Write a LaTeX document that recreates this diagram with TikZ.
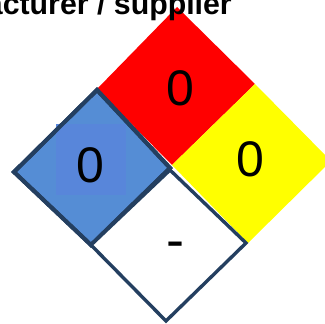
\documentclass[tikz,border=0pt]{standalone}
\usepackage{fontspec}
\setmainfont{Liberation Sans}
\usepackage{tikz}
\usetikzlibrary{positioning}
\definecolor{hazred}{HTML}{FF0000}
\definecolor{hazyellow}{HTML}{FFFF00}
\definecolor{hazblue}{HTML}{558DD5}
\definecolor{hazpatch}{HTML}{5886DA}
\definecolor{hazline}{HTML}{243F60}
\begin{document}
\begin{tikzpicture}[
    x=1pt, y=-1pt,
    panel/.style={line join=miter},
    num/.style={font=\fontsize{50}{50}\selectfont, inner sep=0pt},
    title/.style={font=\fontsize{30.3}{30}\selectfont\bfseries, inner sep=0pt, anchor=base east}
]
\useasboundingbox (0,0) rectangle (325,324);
\clip (0,0) rectangle (325,324);
\fill[white] (0,0) rectangle (325,324);
% quadrants
\fill[hazred, panel] (177,7) -- (255,84) -- (172,165) -- (97,89) -- cycle;
\fill[hazyellow, panel] (255,84) -- (331,161) -- (248,243) -- (172,165) -- cycle;
\filldraw[fill=hazblue, draw=hazline, line width=4pt, panel] (97,90) -- (170,168) -- (91,245) -- (14,172) -- cycle;
\fill[hazpatch] (56,124) rectangle (126,195);
\draw[hazline, line width=4pt, panel] (97,90) -- (170,168) -- (91,245) -- (14,172) -- cycle;
\filldraw[fill=white, draw=hazline, line width=3.4pt, panel] (170,170) -- (246,243) -- (166,321) -- (91,245) -- cycle;
% ratings
\node[num] (health) at (90,165) {0};
\node[num] (fire) at (180,88) {0};
\node[num] (react) at (250,159) {0};
\node[font=\fontsize{54}{54}\selectfont, inner sep=0pt] (special) at (175,250) {-};
\node[title] (maker) at (232,14.7) {manufacturer / supplier};
\end{tikzpicture}
\end{document}
